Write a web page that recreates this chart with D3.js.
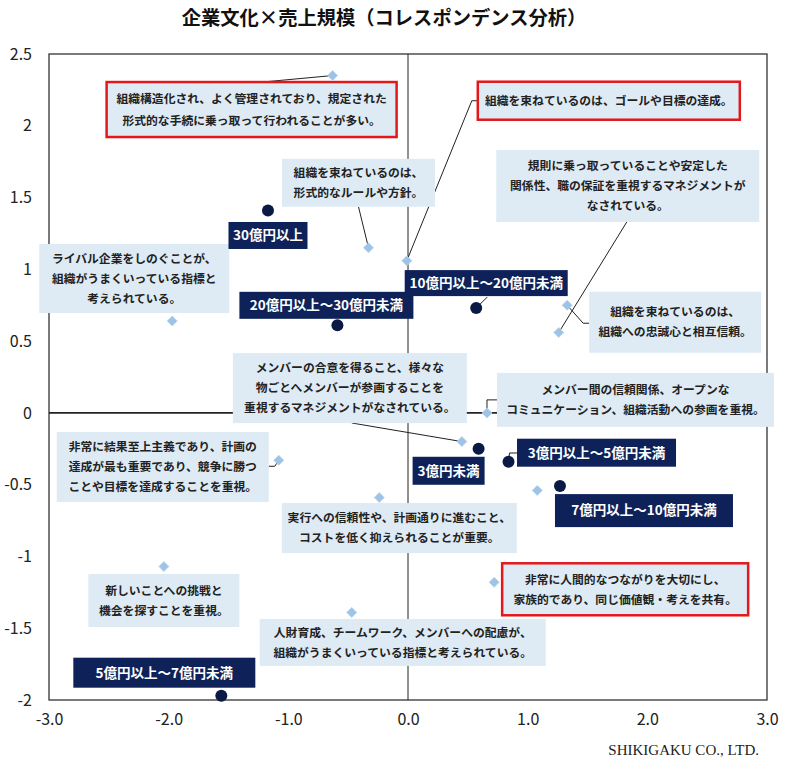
<!DOCTYPE html>
<html lang="ja">
<head>
<meta charset="UTF-8">
<title>企業文化×売上規模（コレスポンデンス分析）</title>
<script src="https://cdn.jsdelivr.net/npm/d3@7"></script>
<style>
  body { margin: 0; background: #fff; }
  svg { display: block; font-family: "Noto Sans CJK JP", sans-serif; }
</style>
</head>
<body>
<script>
// 企業文化の項目（◇）
const cultureX = [-0.63, -0.33, -0.01, -1.97, 1.33, 1.26, 0.66, 0.45, -1.08, -0.24, 1.08, -2.04, 0.72, -0.47];
const cultureY = [2.35, 1.15, 1.06, 0.64, 0.75, 0.56, 0.00, -0.20, -0.33, -0.59, -0.54, -1.07, -1.18, -1.39];
const cultureText = [
  "組織構造化され、よく管理されており、規定された\n形式的な手続に乗っ取って行われることが多い。",
  "組織を束ねているのは、\n形式的なルールや方針。",
  "組織を束ねているのは、ゴールや目標の達成。",
  "ライバル企業をしのぐことが、\n組織がうまくいっている指標と\n考えられている。",
  "組織を束ねているのは、\n組織への忠誠心と相互信頼。",
  "規則に乗っ取っていることや安定した\n関係性、職の保証を重視するマネジメントが\nなされている。",
  "メンバー間の信頼関係、オープンな\nコミュニケーション、組織活動への参画を重視。",
  "メンバーの合意を得ること、様々な\n物ごとへメンバーが参画することを\n重視するマネジメントがなされている。",
  "非常に結果至上主義であり、計画の\n達成が最も重要であり、競争に勝つ\nことや目標を達成することを重視。",
  "実行への信頼性や、計画通りに進むこと、\nコストを低く抑えられることが重要。",
  "",
  "新しいことへの挑戦と\n機会を探すことを重視。",
  "非常に人間的なつながりを大切にし、\n家族的であり、同じ価値観・考えを共有。",
  "人財育成、チームワーク、メンバーへの配慮が、\n組織がうまくいっている指標と考えられている。"
];

// 売上規模（●）
const sizeName = ["30億円以上", "20億円以上～30億円未満", "10億円以上～20億円未満", "3億円未満",
                  "3億円以上～5億円未満", "7億円以上～10億円未満", "5億円以上～7億円未満"];
const sizeX = [-1.17, -0.59, 0.57, 0.59, 0.84, 1.27, -1.56];
const sizeY = [1.41, 0.61, 0.73, -0.25, -0.34, -0.51, -1.97];

const xTicks = [-3, -2, -1, 0, 1, 2, 3];
const yTicks = [-2, -1.5, -1, -0.5, 0, 0.5, 1, 1.5, 2, 2.5];

// ラベルの置き方: 点からのずれ(px)、箱の大きさ、引き出し線の折れ点
const cultureBox = [
  {dx: -81, dy: 34, w: 290, h: 55, red: true, lh: 22, lead: [[-70, 6.5]]},
  {dx: -10, dy: -65, w: 153, h: 48, lead: [[-10, -41]]},
  {dx: 202, dy: -160, w: 262, h: 38, red: true, lead: [[65, -160], [71, -160]]},
  {dx: -38, dy: -42.5, w: 190, h: 69},
  {dx: 108, dy: 17, w: 172, h: 61, lead: [[16, 18], [22, 18]]},
  {dx: 69, dy: -146.5, w: 263, h: 72, lead: [[68, -110.5]]},
  {dx: 148.5, dy: -13, w: 277, h: 54, lead: [[0, -13], [10, -13]]},
  {dx: -112, dy: -53.5, w: 234, h: 70, lead: [[-110, -18.6]]},
  {dx: -116, dy: 6.7, w: 212, h: 70, lead: [[-4, 6], [-10, 6]]},
  {dx: 20, dy: 30.5, w: 235, h: 50},
  null,
  {dx: 0, dy: 34, w: 151, h: 53},
  {dx: 131, dy: 7, w: 246, h: 52, red: true},
  {dx: 51, dy: 30, w: 286, h: 47}
];
const sizeBox = [
  {dx: 0, dy: 25, w: 79, h: 27},
  {dx: -11, dy: -20, w: 174, h: 27},
  {dx: 10, dy: -25, w: 163, h: 26, lead: [[11, -11]]},
  {dx: -30, dy: 22, w: 72, h: 28},
  {dx: 88, dy: -9, w: 159, h: 28, lead: [[1, -8.7], [8.5, -8.7]]},
  {dx: 84, dy: 24.5, w: 178, h: 33},
  {dx: -57, dy: -23, w: 182, h: 30}
];

const width = 800;
const height = 763;

const x = d3.scaleLinear().domain([-3, 3]).range([49, 767]);
const y = d3.scaleLinear().domain([-2, 2.5]).range([700, 54]);

const svg = d3.select("body").append("svg")
    .attr("width", width)
    .attr("height", height);

svg.append("text")
    .attr("x", 384)
    .attr("y", 25)
    .attr("text-anchor", "middle")
    .attr("font-size", 19.3)
    .attr("font-weight", "bold")
    .attr("fill", "#111")
    .text("企業文化×売上規模（コレスポンデンス分析）");

// 枠と原点の線
svg.append("rect")
    .attr("x", x(-3))
    .attr("y", y(2.5))
    .attr("width", x(3) - x(-3))
    .attr("height", y(-2) - y(2.5))
    .attr("fill", "none")
    .attr("stroke", "#222")
    .attr("stroke-width", 1.2);

svg.append("line")
    .attr("x1", x(0)).attr("x2", x(0))
    .attr("y1", y(2.5)).attr("y2", y(-2))
    .attr("stroke", "#222");

svg.append("line")
    .attr("x1", x(-3)).attr("x2", x(3))
    .attr("y1", y(0)).attr("y2", y(0))
    .attr("stroke", "#222")
    .attr("stroke-width", 1.6);

// 軸
function tickStyle(g) {
    g.select(".domain").remove();
    g.selectAll("text")
        .attr("font-family", "'Noto Sans CJK JP', sans-serif")
        .attr("font-size", 16)
        .attr("fill", "#222");
}

svg.append("g")
    .attr("transform", `translate(0,${y(-2)})`)
    .call(d3.axisBottom(x).tickValues(xTicks).tickSize(0).tickPadding(14).tickFormat(d => d.toFixed(1)))
    .call(tickStyle);

svg.append("g")
    .attr("transform", `translate(${x(-3)},0)`)
    .call(d3.axisLeft(y).tickValues(yTicks).tickSize(0).tickPadding(17).tickFormat(d => String(d)))
    .call(tickStyle);

const culture = cultureX.map((v, i) => ({x: v, y: cultureY[i], text: cultureText[i], box: cultureBox[i]}));
const sizes = sizeX.map((v, i) => ({x: v, y: sizeY[i], text: sizeName[i], box: sizeBox[i]}));

function leader(d) {
    const px = x(d.x), py = y(d.y);
    return "M" + [[px, py], ...d.box.lead.map(p => [px + p[0], py + p[1]])].map(p => p.join(",")).join("L");
}

// 引き出し線
svg.append("g")
    .attr("fill", "none")
    .attr("stroke", "#222")
    .attr("stroke-width", 1)
    .selectAll("path")
    .data([...culture, ...sizes].filter(d => d.box && d.box.lead))
    .join("path")
    .attr("d", leader);

// 企業文化のラベル
const cBox = svg.append("g")
    .selectAll("g")
    .data(culture.filter(d => d.box))
    .join("g")
    .attr("transform", d => `translate(${x(d.x) + d.box.dx},${y(d.y) + d.box.dy})`);

cBox.append("rect")
    .attr("x", d => -d.box.w / 2)
    .attr("y", d => -d.box.h / 2)
    .attr("width", d => d.box.w)
    .attr("height", d => d.box.h)
    .attr("fill", "#deebf5")
    .attr("stroke", d => d.box.red ? "#e2181c" : "none")
    .attr("stroke-width", 2.5);

cBox.append("text")
    .attr("text-anchor", "middle")
    .attr("font-size", 11.8)
    .attr("font-weight", "bold")
    .attr("fill", "#222")
    .each(function(d) {
        const lines = d.text.split("\n");
        const lh = d.box.lh || 20;
        d3.select(this).selectAll("tspan")
            .data(lines)
            .join("tspan")
            .attr("x", 0)
            .attr("y", (l, i) => (i - (lines.length - 1) / 2) * lh)
            .attr("dy", "0.36em")
            .text(l => l);
    });

// 売上規模のラベル
const sBox = svg.append("g")
    .selectAll("g")
    .data(sizes)
    .join("g")
    .attr("transform", d => `translate(${x(d.x) + d.box.dx},${y(d.y) + d.box.dy})`);

sBox.append("rect")
    .attr("x", d => -d.box.w / 2)
    .attr("y", d => -d.box.h / 2)
    .attr("width", d => d.box.w)
    .attr("height", d => d.box.h)
    .attr("fill", "#0e2259");

sBox.append("text")
    .attr("text-anchor", "middle")
    .attr("dy", "0.36em")
    .attr("font-size", 13.5)
    .attr("font-weight", "bold")
    .attr("fill", "#fff")
    .text(d => d.text);

// 点
svg.append("g")
    .selectAll("path")
    .data(culture)
    .join("path")
    .attr("transform", d => `translate(${x(d.x)},${y(d.y)}) rotate(45)`)
    .attr("d", d3.symbol(d3.symbolSquare, 50))
    .attr("fill", "#9dc3e6")
    .attr("stroke", "#b7d3ee")
    .attr("stroke-width", 0.8);

svg.append("g")
    .selectAll("circle")
    .data(sizes)
    .join("circle")
    .attr("cx", d => x(d.x))
    .attr("cy", d => y(d.y))
    .attr("r", 6)
    .attr("fill", "#0b1a44");

svg.append("text")
    .attr("x", 759)
    .attr("y", 755)
    .attr("text-anchor", "end")
    .attr("font-family", "'Liberation Serif', serif")
    .attr("font-size", 15)
    .attr("fill", "#222")
    .text("SHIKIGAKU CO., LTD.");
</script>
</body>
</html>
